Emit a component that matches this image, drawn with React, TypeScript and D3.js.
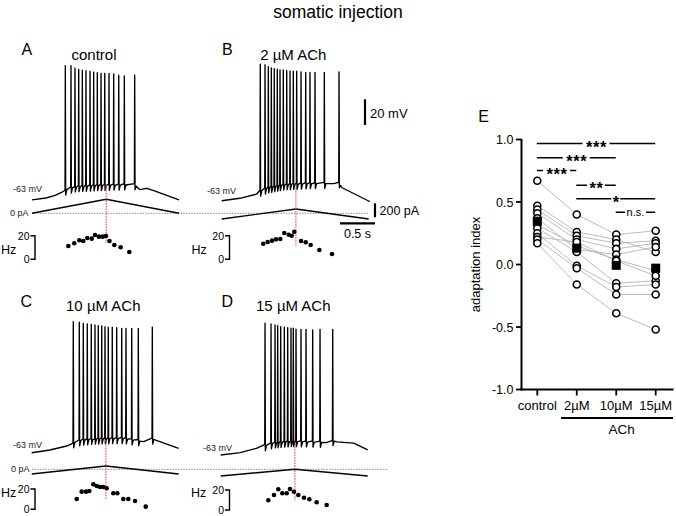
import React from "react";
import * as d3 from "d3";

// ---------------- Panels A-D : data ----------------
const rampTimes = [0, 1.06, 2.1]; // s
const markerTime = 1.06; // s, peak of the current ramp

const spikeTimesA = [0.476, 0.557, 0.614, 0.667, 0.719, 0.771, 0.829, 0.881, 0.933, 0.986, 1.039, 1.1, 1.167, 1.239, 1.319, 1.467];
const spikePeaksA = [33, 33, 31, 30, 29.5, 29, 28.5, 28, 27.5, 27, 27, 27, 26.5, 25.5, 25, 25.5];
const baseTimesA = [0, 0.2, 0.33, 0.43, 0.47, 0.6, 0.9, 1.2, 1.47, 1.54, 1.64, 1.75, 2.1];
const baseVoltsA = [-71.5, -70, -68, -65.5, -64, -61.5, -60.5, -60, -59.8, -63.5, -62.5, -64.5, -71.5];
const rampCurrentA = [0, 200, 0];
const hzTimesA = [0.519, 0.604, 0.676, 0.733, 0.79, 0.853, 0.9, 0.957, 1.01, 1.057, 1.107, 1.176, 1.267, 1.39];
const hzValuesA = [11.3, 13.6, 16.1, 15.5, 18.1, 17.5, 20.6, 19.2, 19.2, 19.7, 15.5, 12.1, 10.2, 6.2];

const spikeTimesB = [0.551, 0.619, 0.666, 0.709, 0.751, 0.794, 0.833, 0.88, 0.929, 0.976, 1.023, 1.071, 1.133, 1.2, 1.261, 1.333, 1.466, 1.676];
const spikePeaksB = [35.5, 35, 33.5, 32.5, 32, 31.5, 31, 31, 30.5, 30, 30, 30, 29.5, 29, 29, 29, 29, 29.5];
const baseTimesB = [0, 0.26, 0.5, 0.55, 0.65, 0.9, 1.3, 1.6, 1.67, 1.72, 2.12];
const baseVoltsB = [-70.8, -68.9, -65.6, -63.5, -61, -58.5, -57.5, -57.5, -56.5, -60.7, -71.6];
const rampCurrentB = [-81, 61, -81];
const hzTimesB = [0.594, 0.657, 0.719, 0.776, 0.837, 0.894, 0.957, 1.0, 1.037, 1.133, 1.2, 1.271, 1.395, 1.576];
const hzValuesB = [13.2, 14.7, 15.8, 16.9, 17.2, 22.3, 20.8, 20, 23.4, 15.5, 14.4, 12.1, 7.9, 4.5];

const spikeTimesC = [0.594, 0.68, 0.737, 0.794, 0.851, 0.904, 0.951, 1.0, 1.047, 1.094, 1.151, 1.214, 1.286, 1.347, 1.429, 1.523, 1.723];
const spikePeaksC = [33, 32.5, 31.7, 31.2, 30.9, 30.4, 29.8, 29.6, 29.1, 28.6, 28.6, 28.3, 27.8, 27.8, 27.8, 27.8, 28.6];
const baseTimesC = [0, 0.26, 0.5, 0.59, 0.7, 0.9, 1.3, 1.6, 1.7, 1.76, 2.1];
const baseVoltsC = [-69, -66.9, -63.8, -61.5, -59.5, -58.5, -58, -60.4, -58, -59, -65.6];
const rampCurrentC = [-67, 47, -67];
const hzTimesC = [0.643, 0.714, 0.776, 0.823, 0.88, 0.929, 0.976, 1.023, 1.071, 1.166, 1.223, 1.309, 1.38, 1.476, 1.629];
const hzValuesC = [10.1, 17.4, 17.4, 18.0, 24.6, 23.0, 22.0, 22.0, 20.7, 15.8, 15.8, 10.1, 10.1, 8.2, 2.6];

const spikeTimesD = [0.633, 0.719, 0.776, 0.814, 0.857, 0.909, 0.957, 1.004, 1.037, 1.076, 1.147, 1.219, 1.314, 1.419, 1.6];
const spikePeaksD = [34.3, 33.7, 33, 32.4, 31.6, 31.2, 30.9, 30.4, 30.4, 29.8, 29.6, 29.6, 29.1, 29.6, 29.6];
const baseTimesD = [0, 0.28, 0.51, 0.63, 0.75, 1.0, 1.51, 1.59, 1.66, 1.9, 2.1];
const baseVoltsD = [-68.2, -66.4, -63, -61.2, -59, -57.8, -58.6, -57, -58, -59, -64.3];
const rampCurrentD = [-96, 0, -96];
const hzTimesD = [0.68, 0.761, 0.823, 0.88, 0.943, 0.99, 1.047, 1.109, 1.19, 1.266, 1.371, 1.514];
const hzValuesD = [9.7, 15, 20.7, 16.7, 16.7, 21, 18.3, 15, 12.3, 10.7, 7.7, 5];

const panelLetters = ["A", "B", "C", "D"];
const panelTitles = ["control", "2 µM ACh", "10 µM ACh", "15 µM ACh"];

// ---------------- Panel E : data ----------------
const categories = ["control", "2µM", "10µM", "15µM"];
const cellsControl = [0.67, 0.47, 0.44, 0.41, 0.37, 0.32, 0.29, 0.25, 0.22, 0.2, 0.17];
const cells2uM = [0.4, 0.26, 0.23, 0.2, 0.12, 0.15, 0.1, -0.01, 0.18, -0.03, -0.16];
const cells10uM = [0.24, 0.2, 0.17, 0.125, 0.08, 0.04, -0.15, -0.18, 0.03, -0.24, -0.39];
const cells15uM = [0.27, 0.1, 0.19, 0.17, 0.14, -0.05, -0.13, -0.16, -0.09, -0.24, -0.52];
const yTicksE = [-1, -0.5, 0, 0.5, 1];
const sigPairs = [[0, 3], [0, 2], [0, 1], [1, 2], [1, 3], [2, 3]];
const sigLabels = ["***", "***", "***", "**", "*", "n.s."];

// ---------------- layout ----------------
const FONT = "'Liberation Sans', Arial, Helvetica, sans-serif";
const MV_PX = 25.7 / 20; // px per mV
const PA_PX = 14 / 200; // px per pA
const S_PX = 70; // px per s

const panelLayouts = [
  { x0: 32, vRefY: 189, zeroY: 213.3, hz0Y: 259.3, hz20Y: 235.7, marker: [185, 243], letter: [21.5, 55], title: [94, 60], mv: [13, 192], hz: [1, 254], bracketX: 35, zeroLabel: [10, 216.3] },
  { x0: 221.7, vRefY: 190.7, zeroY: 213.3, hz0Y: 259.3, hz20Y: 235.7, marker: [185, 246], letter: [222, 55], title: [293.3, 59.5], mv: [207, 193.5], hz: [191.5, 254], bracketX: 229.5, zeroLabel: null },
  { x0: 31.7, vRefY: 445, zeroY: 469.3, hz0Y: 509.3, hz20Y: 489, marker: [440, 499.3], letter: [20.5, 306.7], title: [103.3, 311], mv: [13, 448], hz: [1, 497], bracketX: 35, zeroLabel: [11, 472.3] },
  { x0: 220.7, vRefY: 448.3, zeroY: 469.3, hz0Y: 510, hz20Y: 490, marker: [441.7, 500], letter: [221.5, 306.7], title: [293.3, 311], mv: [203, 451], hz: [191, 497], bracketX: 229.5, zeroLabel: null },
];
const zeroLines = [
  { x1: 32, x2: 368, y: 213.3 },
  { x1: 32, x2: 388, y: 469.3 },
];
const sigLevels = [0.968, 0.854, 0.752, 0.634, 0.526, 0.418];
const sigHalfGap: Record<string, number> = { "***": 13.5, "**": 9, "*": 4.5, "n.s.": 10.5 };

const panels = [
  { spikeT: spikeTimesA, spikeV: spikePeaksA, baseT: baseTimesA, baseV: baseVoltsA, ramp: rampCurrentA, hzT: hzTimesA, hzV: hzValuesA },
  { spikeT: spikeTimesB, spikeV: spikePeaksB, baseT: baseTimesB, baseV: baseVoltsB, ramp: rampCurrentB, hzT: hzTimesB, hzV: hzValuesB },
  { spikeT: spikeTimesC, spikeV: spikePeaksC, baseT: baseTimesC, baseV: baseVoltsC, ramp: rampCurrentC, hzT: hzTimesC, hzV: hzValuesC },
  { spikeT: spikeTimesD, spikeV: spikePeaksD, baseT: baseTimesD, baseV: baseVoltsD, ramp: rampCurrentD, hzT: hzTimesD, hzV: hzValuesD },
];

function tracePoints(spT: number[], spV: number[], bT: number[], bV: number[]): [number, number][] {
  const base = d3.scaleLinear().domain(bT).range(bV).clamp(true);
  const pre = 0.004, post = 0.022, ahp = 3.8;
  const pts: [number, number][] = [];
  bT.forEach((t, i) => {
    if (!spT.some((s) => t > s - pre && t < s + post)) pts.push([t, bV[i]]);
  });
  spT.forEach((s, i) => {
    pts.push([s - pre, base(s - pre) + 1]);
    pts.push([s, spV[i]]);
    pts.push([s + 0.005, base(s) - ahp]);
    pts.push([s + post, base(s + post)]);
  });
  pts.sort((a, b) => a[0] - b[0]);
  return pts;
}

function TracePanel({ idx }: { idx: number }) {
  const p = panels[idx];
  const L = panelLayouts[idx];
  const x = d3.scaleLinear().domain([0, 1]).range([L.x0, L.x0 + S_PX]);
  const v = d3.scaleLinear().domain([-63, -43]).range([L.vRefY, L.vRefY - 20 * MV_PX]);
  const cur = d3.scaleLinear().domain([0, 200]).range([L.zeroY, L.zeroY - 200 * PA_PX]);
  const hz = d3.scaleLinear().domain([0, 20]).range([L.hz0Y, L.hz20Y]);
  const pts = tracePoints(p.spikeT, p.spikeV, p.baseT, p.baseV);
  const vLine = d3.line<[number, number]>().x((d) => x(d[0])).y((d) => v(d[1]));
  const rampLine = d3.line<number>().x((_, k) => x(rampTimes[k])).y((d) => cur(d));
  const bx = L.bracketX;
  return (
    <g>
      <text x={L.letter[0]} y={L.letter[1]} fontSize={16}>{panelLetters[idx]}</text>
      <text x={L.title[0]} y={L.title[1]} fontSize={15} textAnchor="middle">{panelTitles[idx]}</text>
      <text x={L.mv[0]} y={L.mv[1]} fontSize={9} fill="#222">-63 mV</text>
      {L.zeroLabel && (
        <text x={L.zeroLabel[0]} y={L.zeroLabel[1]} fontSize={9} fill="#222">0 pA</text>
      )}
      <path d={vLine(pts) || ""} fill="none" stroke="#000" strokeWidth={1.35} strokeLinejoin="round" />
      <path d={rampLine(p.ramp) || ""} fill="none" stroke="#000" strokeWidth={1.4} />
      <line x1={x(markerTime)} x2={x(markerTime)} y1={L.marker[0]} y2={L.marker[1]} stroke="#f04848" strokeWidth={1.1} strokeDasharray="1.6,1" />
      {p.hzT.map((t, k) => (
        <circle key={k} cx={x(t)} cy={hz(p.hzV[k])} r={2.3} fill="#000" />
      ))}
      <text x={L.hz[0]} y={L.hz[1]} fontSize={12.5}>Hz</text>
      <text x={bx - 5.5} y={hz(20) + 3.8} fontSize={10.5} textAnchor="end">20</text>
      <text x={bx - 5.5} y={hz(0) + 3.8} fontSize={10.5} textAnchor="end">0</text>
      <path d={`M${bx - 4.5},${hz(20)}H${bx}V${hz(0)}H${bx - 4.5}`} fill="none" stroke="#000" strokeWidth={1.4} />
    </g>
  );
}

function PanelE() {
  const y = d3.scaleLinear().domain([-1, 1]).range([389.5, 139.5]);
  const x = d3.scalePoint<string>().domain(categories).range([537.3, 655.7]);
  const groups = [cellsControl, cells2uM, cells10uM, cells15uM];
  const means = groups.map((g) => d3.mean(g) as number);
  const cellIdx = d3.range(cellsControl.length);
  const cellLine = d3.line<number>().x((_, k) => x(categories[k]) as number).y((d) => y(d));
  const axX = 521.5;
  const axY = y(-1);
  const sq = 9;
  return (
    <g>
      <text x={478.3} y={121.7} fontSize={16}>E</text>
      <text transform={`translate(479.5,${y(0)}) rotate(-90)`} textAnchor="middle" fontSize={13}>adaptation index</text>
      {/* axes */}
      <line x1={axX} x2={axX} y1={y(1) - 0.5} y2={axY + 1} stroke="#000" strokeWidth={2} />
      <line x1={axX - 1} x2={673.5} y1={axY} y2={axY} stroke="#000" strokeWidth={2} />
      {yTicksE.map((t) => (
        <g key={t}>
          <line x1={axX - 5.5} x2={axX} y1={y(t)} y2={y(t)} stroke="#000" strokeWidth={1.8} />
          <text x={axX - 8} y={y(t)} dy="0.36em" fontSize={12.5} textAnchor="end">{d3.format(".1f")(t).replace("−", "-")}</text>
        </g>
      ))}
      {categories.map((c) => (
        <g key={c}>
          <line x1={x(c)} x2={x(c)} y1={axY} y2={axY + 6} stroke="#000" strokeWidth={1.8} />
          <text x={x(c)} y={409.5} fontSize={13} textAnchor="middle">{c}</text>
        </g>
      ))}
      <line x1={561} x2={673} y1={418} y2={418} stroke="#000" strokeWidth={2} />
      <text x={621.7} y={433.5} fontSize={13.5} textAnchor="middle">ACh</text>
      {/* individual cells */}
      {cellIdx.map((i) => (
        <path key={i} d={cellLine(groups.map((g) => g[i])) || ""} fill="none" stroke="#b4b4b4" strokeWidth={0.9} />
      ))}
      {groups.map((g, gi) =>
        g.map((val, k) => (
          <circle key={`${gi}-${k}`} cx={x(categories[gi])} cy={y(val)} r={3.5} fill="#fff" stroke="#000" strokeWidth={1.6} />
        ))
      )}
      {means.map((m, gi) => (
        <rect key={gi} x={(x(categories[gi]) as number) - sq / 2} y={y(m) - sq / 2} width={sq} height={sq} fill="#000" />
      ))}
      {/* significance */}
      {sigPairs.map(([a, b], k) => {
        const x1 = (x(categories[a]) as number) - 0.5;
        const x2 = (x(categories[b]) as number) - 0.5;
        const yy = y(sigLevels[k]);
        const cx = (x1 + x2) / 2;
        const lab = sigLabels[k];
        const hg = sigHalfGap[lab];
        const isStar = lab !== "n.s.";
        return (
          <g key={k}>
            <line x1={x1} x2={cx - hg} y1={yy} y2={yy} stroke="#000" strokeWidth={1.5} />
            <line x1={cx + hg} x2={x2} y1={yy} y2={yy} stroke="#000" strokeWidth={1.5} />
            {isStar ? (
              <text x={cx + 0.5} y={yy + 9} fontSize={16.5} fontWeight="bold" textAnchor="middle" letterSpacing={0.6}>{lab}</text>
            ) : (
              <text x={cx} y={yy + 3.4} fontSize={11} textAnchor="middle">{lab}</text>
            )}
          </g>
        );
      })}
    </g>
  );
}

export default function App() {
  const vScaleBar = 20 * MV_PX;
  const iScaleBar = 200 * PA_PX;
  const tScaleBar = 0.5 * S_PX;
  return (
    <svg width={676} height={516} style={{ position: "absolute", left: 0, top: 0, display: "block" }} fontFamily={FONT}>
      <rect width={676} height={516} fill="#fff" />
      <text x={338} y={17.5} fontSize={17.5} textAnchor="middle">somatic injection</text>
      {zeroLines.map((z, k) => (
        <line key={k} x1={z.x1} x2={z.x2} y1={z.y} y2={z.y} stroke="#8a8a8a" strokeWidth={1} strokeDasharray="1.5,1.2" />
      ))}
      {panels.map((_, i) => (
        <TracePanel key={i} idx={i} />
      ))}
      {/* scale bars */}
      <line x1={365} x2={365} y1={99.3} y2={99.3 + vScaleBar} stroke="#000" strokeWidth={2.2} />
      <text x={370} y={117.5} fontSize={13}>20 mV</text>
      <line x1={375} x2={375} y1={203.3} y2={203.3 + iScaleBar} stroke="#000" strokeWidth={2.2} />
      <text x={379.5} y={215} fontSize={12.5}>200 pA</text>
      <line x1={375 - tScaleBar} x2={375} y1={223.3} y2={223.3} stroke="#000" strokeWidth={2.2} />
      <text x={357.5} y={237.5} fontSize={12.5} textAnchor="middle">0.5 s</text>
      <PanelE />
    </svg>
  );
}
